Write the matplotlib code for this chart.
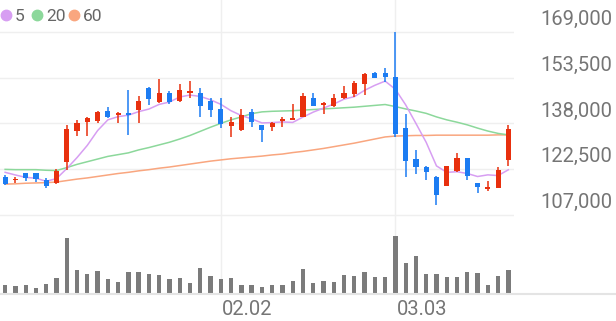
import numpy as np
import pandas as pd
import matplotlib
matplotlib.use("Agg")
import matplotlib.pyplot as plt
from matplotlib.lines import Line2D

# daily candles (price in won)
opens = [119900, 118800, 121100, 121100, 118800, 117900, 125000, 135400, 138600, 138900,
         142300, 140800, 141400, 142500, 149900, 145200, 148200, 145700, 148200, 148400,
         145600, 142800, 137200, 135800, 142000, 137500, 136700, 138700, 139200, 140300,
         146500, 144200, 144000, 146700, 147900, 151400, 155000, 155000, 153600, 136300,
         125800, 123300, 119900, 116800, 121900, 126200, 117700, 115700, 116200, 125600]
highs = [120500, 119700, 121300, 121300, 119400, 122400, 137500, 139200, 140100, 142200,
         143700, 142000, 149200, 147300, 150200, 153100, 149000, 151400, 152400, 149900,
         146500, 146500, 140300, 142900, 142900, 137600, 138600, 140100, 144500, 148400,
         148400, 145400, 147900, 150800, 152400, 155000, 155500, 156700, 168900, 141100,
         129000, 123400, 120200, 123500, 128000, 126300, 117800, 118600, 123300, 137300]
lows = [117100, 117900, 118600, 118100, 116000, 117400, 122200, 133700, 133800, 138000,
        139900, 138000, 134100, 138200, 144200, 145000, 144500, 145400, 146500, 140100,
        140300, 136300, 133500, 135500, 136800, 131800, 135500, 136700, 139000, 140100,
        143900, 141100, 143700, 146200, 147100, 147600, 153300, 152100, 133500, 119900,
        120700, 118800, 110300, 116600, 121500, 118800, 114500, 115200, 116100, 123500]
closes = [117400, 119100, 119500, 119000, 116800, 122000, 136000, 138200, 139700, 141800,
          140300, 141400, 140700, 145700, 146200, 148200, 145400, 149300, 148900, 143900,
          142500, 137700, 138400, 140800, 138300, 135600, 138200, 139600, 139900, 147400,
          144000, 145000, 146500, 148200, 151600, 154800, 153500, 153600, 134300, 125200,
          123300, 121400, 113700, 123400, 126200, 120300, 116300, 116500, 122200, 136000]
volumes = [83, 73, 87, 60, 93, 153, 560, 240, 200, 227,
           143, 117, 217, 217, 200, 190, 147, 160, 107, 257,
           173, 150, 153, 90, 90, 70, 90, 90, 127, 250,
           110, 127, 120, 190, 177, 220, 163, 163, 577, 303,
           380, 193, 200, 167, 170, 213, 203, 90, 177, 240]

ma5_head = [121400, 120500, 119700, 119400]
ma20 = [122400, 122300, 122300, 122300, 122100, 122000, 123000, 124100, 125000, 125900,
        126800, 127400, 128000, 129000, 129800, 130700, 131600, 132700, 133900, 135300,
        136700, 138000, 139200, 140200, 141300, 141900, 142100, 142200, 142300, 142500,
        142700, 142900, 143100, 143300, 143500, 143800, 144100, 144400, 143700, 142900,
        142200, 141400, 140200, 139200, 138400, 137500, 136400, 135400, 134600, 134100]
ma60 = [117400, 117500, 117700, 117800, 117900, 118100, 118600, 119100, 119500, 120000,
        120500, 121000, 121400, 121900, 122300, 122800, 123200, 123700, 124200, 124700,
        125200, 125600, 126000, 126300, 126600, 126900, 127300, 127600, 128100, 128500,
        129000, 129500, 130100, 130700, 131300, 132000, 132700, 133400, 133700, 133800,
        133900, 133900, 134000, 134000, 134000, 134000, 134000, 134000, 134100, 134100]

price_ticks = [107000, 122500, 138000, 153500, 169000]
date_pos = [21, 38]
date_labels = ["02.02", "03.03"]

RED = "#e8300e"
BLUE = "#1c7cf2"
C5, C20, C60 = "#d79ef2", "#8cd89b", "#f9a67f"
GRID = "#efefef"
TXT = "#757575"

plt.rcParams["font.family"] = ["Roboto", "DejaVu Sans"]

n = len(closes)
x = np.arange(n)
ma5 = pd.Series(closes, dtype=float).rolling(5).mean().values
ma5[:4] = ma5_head

W, H = 616, 321
fig = plt.figure(figsize=(W / 100, H / 100), dpi=100)
ax = fig.add_axes([0, (H - 222) / H, 513.5 / W, 222 / H])
axv = fig.add_axes([0, (H - 293.5) / H, 513.5 / W, 71.5 / H])

for a in (ax, axv):
    a.set_xlim(-0.5, n - 0.5)
    a.set_facecolor("none")
    for s in a.spines.values():
        s.set_visible(False)
    a.set_xticks(date_pos)
    a.tick_params(length=0, labelbottom=False, labelleft=False)
    a.xaxis.grid(True, color=GRID, lw=1)
    a.set_axisbelow(True)

ax.set_ylim(104550, 179850)
ax.set_yticks(price_ticks)
ax.yaxis.grid(True, color=GRID, lw=1)
axv.set_ylim(0, 715)
axv.set_yticks([])

ax.plot(x, ma60, color=C60, lw=1.1, zorder=2)
ax.plot(x, ma20, color=C20, lw=1.1, zorder=2)
ax.plot(x, ma5, color=C5, lw=1.1, zorder=2)

for i in range(n):
    o, h, l, c = opens[i], highs[i], lows[i], closes[i]
    col = RED if c >= o else BLUE
    ax.vlines(i, l, h, color=col, lw=1.1, zorder=3)
    ax.bar(i, max(abs(c - o), 500), bottom=min(o, c), width=0.5, color=col, zorder=4)

axv.bar(x, volumes, width=0.42, color="#7b7b7b")

fig.add_artist(Line2D([0, 1], [(H - 293.8) / H] * 2, transform=fig.transFigure,
                      color="#e4e4e4", lw=1.5))

for v in price_ticks:
    ax.annotate(f"{v:,}", xy=(612 / W, v), xycoords=("figure fraction", "data"),
                xytext=(0, 4.9), textcoords="offset points", ha="right", va="baseline",
                fontsize=14.5, color=TXT, annotation_clip=False)

for p, lab in zip(date_pos, date_labels):
    axv.annotate(lab, xy=(p, 0), xytext=(1, -15.5), textcoords="offset points",
                 ha="left", va="baseline", fontsize=14.5, color=TXT, annotation_clip=False)

# legend
for cx, tx, col, lab in [(6, 15, C5, "5"), (36.7, 46.5, C20, "20"), (74, 83, C60, "60")]:
    fig.add_artist(Line2D([cx / W], [(H - 15) / H], transform=fig.transFigure,
                          marker="o", markersize=7.5, color=col, lw=0))
    fig.text(tx / W, (H - 21.2) / H, lab, ha="left", va="baseline",
             fontsize=12.5, color="#666666")

fig.savefig("out.png", dpi=100)
